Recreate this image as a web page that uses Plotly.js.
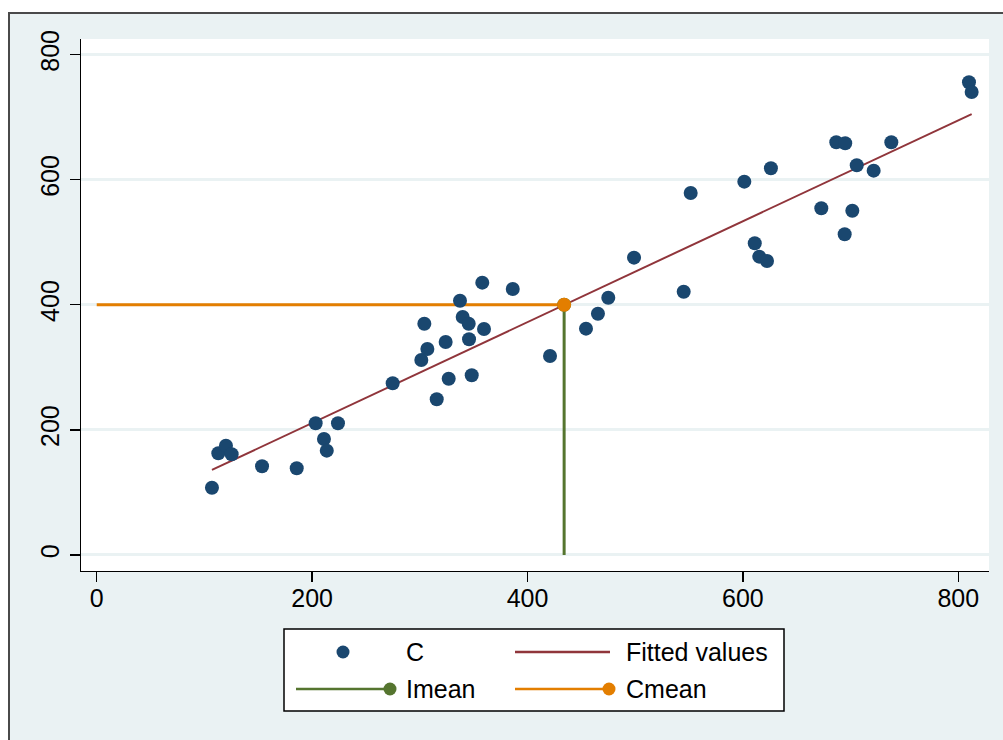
<!DOCTYPE html>
<html>
<head>
<meta charset="utf-8">
<script src="https://cdn.plot.ly/plotly-3.0.1.min.js"></script>
<style>
  html, body { margin: 0; padding: 0; background: #ffffff; width: 1003px; height: 740px; overflow: hidden; }
  #frame { position: absolute; left: 8px; top: 12px; width: 1000px; height: 740px; border-left: 2px solid #4a4a4a; border-top: 2px solid #4a4a4a; background: #EAF2F3; }
  #plot { position: absolute; left: 10px; top: 14px; width: 993px; height: 726px; }
</style>
</head>
<body>
<div id="frame"></div>
<div id="plot"></div>
<script>
// Scatter: C against I
var xC = [107, 112.9, 120, 125.3, 153.5, 185.7, 203.3, 211, 213.6, 224, 274.8, 301.4, 304.2, 307, 315.7, 324, 326.8, 337.3, 339.8, 345.4, 345.7, 348.2, 358, 359.6, 386.3, 420.9, 454.3, 465.4, 475, 498.9, 545, 551.5, 601.3, 611, 615.2, 622.4, 626, 672.8, 686.7, 695, 694.5, 701.6, 705.7, 721.4, 737.8, 809.9, 812.4];
var yC = [107.6, 162.6, 174.8, 161, 141.8, 138.6, 210.6, 185.5, 166.8, 210.6, 274.5, 311.8, 369.8, 329.4, 249, 340.6, 281.9, 406.6, 380.6, 369.8, 344.9, 287.3, 435.4, 361.4, 425.3, 318.2, 361.9, 385.8, 411.4, 475.4, 421, 578.8, 596.9, 498.4, 477, 470.1, 618.3, 554.4, 659.9, 658.3, 512.8, 550.5, 623.1, 614.5, 659.9, 755.8, 740.3];
// Fitted values (linear fit endpoints)
var fitX = [107, 812.4];
var fitY = [136, 705];
// Imean vertical line and Cmean horizontal line
var imeanX = [434, 434];
var imeanY = [0, 400];
var cmeanX = [0, 434];
var cmeanY = [400, 400];
// Tick values
var xTicks = [0, 200, 400, 600, 800];
var yTicks = [0, 200, 400, 600, 800];
// Legend labels
var legendLabels = ["C", "Fitted values", "Imean", "Cmean"];

var NAVY = '#1a476f', MAROON = '#90353b', GREEN = '#55752f', ORANGE = '#e37e00';
var FONT = 'Liberation Sans, Arial, sans-serif';

var traces = [
  {x: fitX, y: fitY, mode: 'lines', line: {color: MAROON, width: 2}, showlegend: false, hoverinfo: 'skip'},
  {x: imeanX, y: imeanY, mode: 'lines', line: {color: GREEN, width: 3}, showlegend: false},
  {x: cmeanX, y: cmeanY, mode: 'lines', line: {color: ORANGE, width: 3}, showlegend: false},
  {x: [imeanX[1]], y: [imeanY[1]], mode: 'markers', marker: {color: GREEN, size: 14}, showlegend: false},
  {x: [cmeanX[1]], y: [cmeanY[1]], mode: 'markers', marker: {color: ORANGE, size: 14}, showlegend: false},
  {x: xC, y: yC, mode: 'markers', marker: {color: NAVY, size: 14, line: {width: 0}}, showlegend: false}
];

// Plot area in page pixels: left 81, right 989, top 39, bottom 571
var PL = 81, PR = 989, PT = 39, PB = 571;
function px(x) { return (x - PL) / (PR - PL); }
function py(y) { return (PB - y) / (PB - PT); }

var shapes = [];
var annotations = [];
// legend box
shapes.push({type: 'rect', xref: 'paper', yref: 'paper', x0: px(284), x1: px(784), y0: py(629), y1: py(711),
  fillcolor: '#ffffff', line: {color: '#000000', width: 1.5}, layer: 'above'});
var r1 = 652, r2 = 689, R = 6.5;
function circ(cx, cy, col) {
  shapes.push({type: 'circle', xref: 'paper', yref: 'paper', x0: px(cx - R), x1: px(cx + R), y0: py(cy - R), y1: py(cy + R),
    fillcolor: col, line: {color: col, width: 0}, layer: 'above'});
}
function seg(x0, x1, y, col, w) {
  shapes.push({type: 'line', xref: 'paper', yref: 'paper', x0: px(x0), x1: px(x1), y0: py(y), y1: py(y),
    line: {color: col, width: w}, layer: 'above'});
}
circ(343, r1, NAVY);
seg(515, 610, r1, MAROON, 2.5);
seg(296, 390, r2, GREEN, 2.5);
circ(390, r2, GREEN);
seg(515, 609, r2, ORANGE, 2.5);
circ(609, r2, ORANGE);
function lab(t, x, y) {
  annotations.push({text: t, xref: 'paper', yref: 'paper', x: px(x), y: py(y), xanchor: 'left', yanchor: 'middle',
    showarrow: false, font: {family: FONT, size: 25, color: '#000000'}});
}
lab(legendLabels[0], 404, r1);
lab(legendLabels[1], 624, r1);
lab(legendLabels[2], 404, r2);
lab(legendLabels[3], 624, r2);

var layout = {
  width: 993, height: 726,
  margin: {l: 71, r: 14, t: 25, b: 169, pad: 0},
  paper_bgcolor: 'rgba(0,0,0,0)',
  plot_bgcolor: '#ffffff',
  showlegend: false,
  font: {family: FONT, size: 25, color: '#000000'},
  xaxis: {
    range: [-14.6, 828.5], tickvals: xTicks, ticktext: xTicks.map(String),
    showgrid: false, zeroline: false, showline: true, linecolor: '#000000', linewidth: 1.3,
    ticks: 'outside', ticklen: 10, tickwidth: 1.3, tickcolor: '#000000',
    ticklabelstandoff: -5,
    tickfont: {family: FONT, size: 25, color: '#000000'}
  },
  yaxis: {
    range: [-25.6, 825], tickvals: yTicks, ticktext: yTicks.map(String),
    showgrid: true, gridcolor: '#EAF2F3', gridwidth: 3, zeroline: false,
    showline: true, linecolor: '#000000', linewidth: 1.3,
    ticks: 'outside', ticklen: 10, tickwidth: 1.3, tickcolor: '#000000', tickangle: -90,
    ticklabelstandoff: 1,
    tickfont: {family: FONT, size: 25, color: '#000000'}
  },
  shapes: shapes,
  annotations: annotations
};

Plotly.newPlot('plot', traces, layout, {staticPlot: true, displayModeBar: false});
</script>
</body>
</html>
